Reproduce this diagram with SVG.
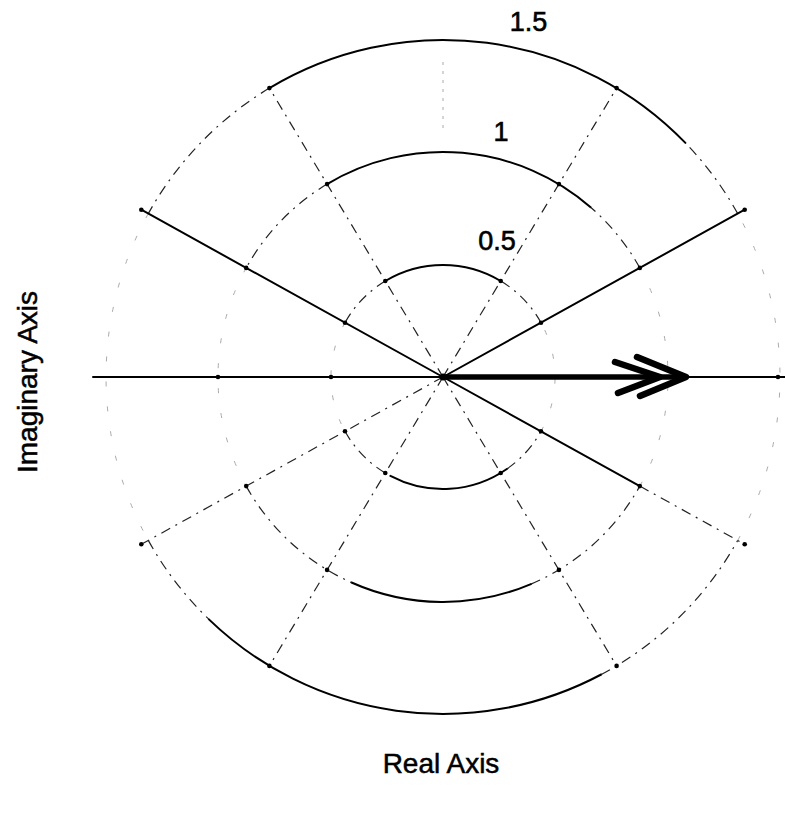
<svg xmlns="http://www.w3.org/2000/svg" xmlns:xlink="http://www.w3.org/1999/xlink" width="785" height="815" viewBox="0 0 785 815">
<defs>
<style>
.solid{fill:none;stroke:#000;stroke-width:2;stroke-linecap:round}
.dd{fill:none;stroke:#222;stroke-width:1.2;stroke-dasharray:10 6 2 6}
.faint{fill:none;stroke:#aaa;stroke-width:1;stroke-dasharray:5 20}
.lbl{font-family:"Liberation Sans",Arial,sans-serif;font-size:27px;fill:#000;stroke:#000;stroke-width:0.6;text-anchor:middle}
.axis{font-family:"Liberation Sans",Arial,sans-serif;font-size:28px;fill:#000;stroke:#000;stroke-width:0.5;text-anchor:middle}
.chev{fill:none;stroke:#000;stroke-width:6.5;stroke-linecap:round;stroke-linejoin:round}
</style>
<circle id="dot" r="2.3" fill="#000"/>
</defs>
<rect width="785" height="815" fill="#fff"/>

<g id="circle-1-5">
<path class="solid" d="M685.4,142.9 A337,337 0 0 0 269.4,88.1"/>
<path class="solid" d="M208.9,619.4 A337,337 0 0 0 601.2,674.5"/>
<path class="dd" d="M737.7,213.6 A337,337 0 0 0 685.4,142.9"/>
<path class="dd" d="M269.4,88.1 A337,337 0 0 0 148.3,213.6"/>
<path class="dd" d="M148.3,540.4 A337,337 0 0 0 208.9,619.4"/>
<path class="dd" d="M601.2,674.5 A337,337 0 0 0 737.7,540.4"/>
<path class="faint" d="M148.3,213.6 A337,337 0 0 0 148.3,540.4"/>
<path class="faint" d="M737.7,540.4 A337,337 0 0 0 737.7,213.6"/>
</g>

<g id="circle-1">
<path class="solid" d="M590.6,207.2 A225,225 0 0 0 327.1,184.1"/>
<path class="solid" d="M351.5,582.5 A225,225 0 0 0 530.9,584.1"/>
<path class="dd" d="M639.8,267.9 A225,225 0 0 0 590.6,207.2"/>
<path class="dd" d="M327.1,184.1 A225,225 0 0 0 246.2,267.9"/>
<path class="dd" d="M246.2,486.1 A225,225 0 0 0 351.5,582.5"/>
<path class="dd" d="M530.9,584.1 A225,225 0 0 0 639.8,486.1"/>
<path class="faint" d="M246.2,267.9 A225,225 0 0 0 246.2,486.1"/>
<path class="faint" d="M639.8,486.1 A225,225 0 0 0 639.8,267.9"/>
</g>

<g id="circle-0-5">
<path class="solid" d="M500.7,281 A112,112 0 0 0 385.3,281"/>
<path class="solid" d="M390.4,475.9 A112,112 0 0 0 507.2,468.7"/>
<path class="dd" d="M541,322.7 A112,112 0 0 0 500.7,281"/>
<path class="dd" d="M385.3,281 A112,112 0 0 0 345,322.7"/>
<path class="dd" d="M345,431.3 A112,112 0 0 0 390.4,475.9"/>
<path class="dd" d="M507.2,468.7 A112,112 0 0 0 541,431.3"/>
<path class="faint" d="M345,322.7 A112,112 0 0 0 345,431.3"/>
<path class="faint" d="M541,431.3 A112,112 0 0 0 541,322.7"/>
</g>

<g id="grid-lines">
<path class="solid" d="M93,377 L785,377"/>
<path class="solid" d="M443,377 L141.3,209.7"/>
<path class="solid" d="M443,377 L744.7,209.7"/>
<path class="dd" d="M443,377 L141.3,544.3"/>
<path class="solid" d="M443,377 L639.8,486.1"/>
<path class="dd" d="M639.8,486.1 L744.7,544.3"/>
<path class="dd" d="M443,377 L269.4,88.1"/>
<path class="dd" d="M443,377 L616.6,88.1"/>
<path class="dd" d="M443,377 L269.4,665.9"/>
<path class="dd" d="M443,377 L616.6,665.9"/>
<path class="faint" d="M443,62 L443,128" style="stroke-dasharray:3 6"/>
</g>

<g id="dots">
<use xlink:href="#dot" x="141.3" y="209.7"/><use xlink:href="#dot" x="246.2" y="267.9"/><use xlink:href="#dot" x="345" y="322.7"/>
<use xlink:href="#dot" x="744.7" y="209.7"/><use xlink:href="#dot" x="639.8" y="267.9"/><use xlink:href="#dot" x="541" y="322.7"/>
<use xlink:href="#dot" x="141.3" y="544.3"/><use xlink:href="#dot" x="246.2" y="486.1"/><use xlink:href="#dot" x="345" y="431.3"/>
<use xlink:href="#dot" x="744.7" y="544.3"/><use xlink:href="#dot" x="639.8" y="486.1"/><use xlink:href="#dot" x="541" y="431.3"/>
<use xlink:href="#dot" x="269.4" y="88.1"/><use xlink:href="#dot" x="327.1" y="184.1"/><use xlink:href="#dot" x="385.3" y="281"/>
<use xlink:href="#dot" x="616.6" y="88.1"/><use xlink:href="#dot" x="558.9" y="184.1"/><use xlink:href="#dot" x="500.7" y="281"/>
<use xlink:href="#dot" x="269.4" y="665.9"/><use xlink:href="#dot" x="327.1" y="569.9"/><use xlink:href="#dot" x="385.3" y="473"/>
<use xlink:href="#dot" x="616.6" y="665.9"/><use xlink:href="#dot" x="558.9" y="569.9"/><use xlink:href="#dot" x="500.7" y="473"/>
<use xlink:href="#dot" x="218" y="377"/><use xlink:href="#dot" x="331" y="377"/><use xlink:href="#dot" x="778" y="377"/>
<circle cx="443" cy="377" r="3.5" fill="#000"/>
</g>

<g id="arrow">
<path d="M443,377 L682,377" fill="none" stroke="#000" stroke-width="5.5"/>
<polyline class="chev" points="637,357 686,377 640,396"/>
<polyline class="chev" points="615,362 660,377 618,393"/>
</g>

<g id="labels">
<text class="lbl" x="528.5" y="31">1.5</text>
<text class="lbl" x="501" y="141">1</text>
<text class="lbl" x="497" y="250">0.5</text>
<text class="axis" x="441" y="773">Real Axis</text>
<text class="axis" x="37" y="382" transform="rotate(-90 37 382)">Imaginary Axis</text>
</g>
</svg>
